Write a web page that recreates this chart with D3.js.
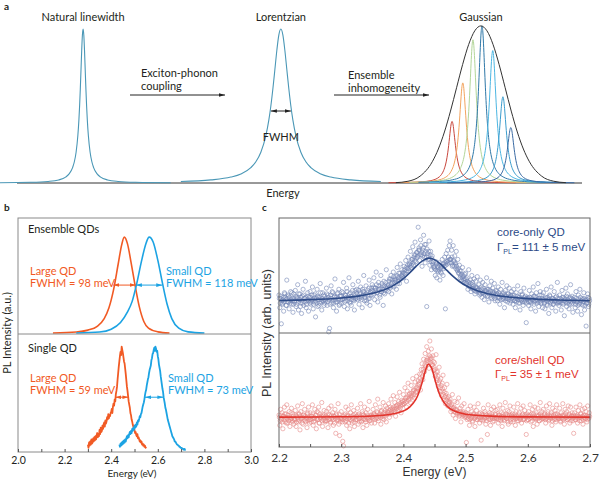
<!DOCTYPE html>
<html>
<head>
<meta charset="utf-8">
<script src="https://cdn.jsdelivr.net/npm/d3@7"></script>
<style>
  body { margin: 0; background: #fff; }
  svg text { font-family: Lato, "Open Sans", sans-serif; fill: #231f20; }
  svg text.arial { font-family: "Liberation Sans", Arial, sans-serif; }
</style>
</head>
<body>
<script>
// ---------- panel a: line shapes (offset in half-widths / sigmas -> relative height)
const lorentzT = [0, 0.2, 0.4, 0.6, 0.8, 1, 1.2, 1.5, 2, 2.5, 3, 4, 5, 7, 10, 15, 25];
const lorentzH = [1, 0.9615, 0.862, 0.735, 0.61, 0.5, 0.41, 0.308, 0.2, 0.138, 0.1, 0.0588, 0.0385, 0.02, 0.0099, 0.0044, 0.0016];
const gaussT = [0, 0.25, 0.5, 0.75, 1, 1.25, 1.5, 1.75, 2, 2.5, 3, 3.5];
const gaussH = [1, 0.969, 0.8825, 0.7548, 0.6065, 0.4578, 0.3247, 0.2163, 0.1353, 0.0439, 0.0111, 0.0022];

// the three schematic peaks (arbitrary energy units 0..100)
const aTitles = ["Natural linewidth", "Lorentzian", "Gaussian"];
const aCenters = [11.7, 46.7, 82.1];
const aWidths = [0.62, 1.77, 4.3];
const aHeights = [1, 1, 1.02];
const aMaxT = [25, 10, 3.5];

// individual emitters under the gaussian
const compCenters = [77.0, 78.9, 80.7, 82.3, 84.2, 86.0, 87.4];
const compHeights = [0.40, 0.65, 0.93, 1.02, 0.86, 0.56, 0.36];
const compWidth = 0.75;
const compColors = ["#c8463c", "#f3a45e", "#b3d699", "#2f78a8", "#4cb6e2", "#3a9ccd", "#3a6aa3"];

// ---------- panel b
const ensLargeE = [2.15, 2.25, 2.30, 2.34, 2.37, 2.39, 2.41, 2.43, 2.445, 2.456, 2.47, 2.485, 2.50, 2.52, 2.54, 2.56, 2.60, 2.65];
const ensLargeI = [0, 0.01, 0.03, 0.07, 0.15, 0.26, 0.45, 0.72, 0.92, 1.0, 0.93, 0.74, 0.53, 0.28, 0.12, 0.05, 0.012, 0];
const ensSmallE = [2.25, 2.35, 2.40, 2.44, 2.47, 2.49, 2.51, 2.53, 2.55, 2.563, 2.58, 2.60, 2.62, 2.64, 2.66, 2.69, 2.73, 2.80];
const ensSmallI = [0, 0.01, 0.04, 0.11, 0.22, 0.33, 0.52, 0.75, 0.94, 1.0, 0.95, 0.76, 0.52, 0.30, 0.15, 0.05, 0.012, 0];

const singleStep = 0.0025;
const singleLargeStart = 2.30;
const singleLarge = [
  7,4,9,6, 10,7,12,8, 9,13,10,14, 11,15,12,16, 18,14,17,15, 21,17,23,19, 20,25,22,26,
  28,24,30,27, 29,33,31,36, 32,35,34,37, 38,41,37,43, 46,44,50,48, 55,58,62,69,
  75,81,86,91, 95,92,100,97, 94,90,86,84, 79,74,68,62, 58,53,48,45, 42,37,35,31,
  29,26,24,23, 21,18,19,16, 15,17,13,14, 12,10,11,9, 10,7,8,6, 7,5,6,4, 5];
const singleSmallStart = 2.435;
const singleSmall = [
  7,5, 8,6,9,7, 10,8,11,9, 12,10,13,15, 13,16,14,17, 19,17,20,18, 22,20,23,21,
  25,23,26,24, 28,26,30,29, 31,34,33,36, 37,40,43,45, 47,50,54,57, 59,63,66,69,
  71,75,78,80, 82,87,89,93, 94,97,99,96, 100,98,95,96, 91,88,83,80, 77,72,68,64,
  60,57,52,49, 46,42,40,37, 34,31,29,27, 25,23,21,19, 17,15,14,13, 12,10,10,9,
  8,7,7,6, 6,5,5,4, 4,4,3,3, 3,2,3,2, 2];

// ---------- panel c (two interleaved scans per QD)
const cStart = 2.2, cStep = 0.00125;
const coreOnlyPL = [
  33,22,30,8,26,29,19,35,31,24,46,27,32,21,28,36,25,30,18,34,
  27,37,23,31,42,20,29,34,26,17,32,38,24,30,45,22,28,35,19,31,
  36,25,29,40,21,33,27,14,30,38,23,31,26,43,29,20,35,28,24,32,
  28,39,24,33,1,4,30,41,26,35,22,31,47,27,19,34,29,38,25,32,
  26,36,30,44,23,33,28,39,21,31,48,27,35,24,32,42,29,20,37,30,
  38,29,45,25,34,40,31,22,36,50,28,33,41,26,37,30,46,24,35,39,
  42,33,48,29,39,53,35,27,44,38,31,50,36,41,24,45,34,40,55,37,
  41,36,47,39,50,34,44,53,40,46,49,38,57,45,52,43,60,48,55,51,
  48,58,52,63,45,56,66,54,60,71,57,64,75,59,68,79,62,70,66,92,
  74,63,81,68,58,72,85,66,61,77,23,69,64,80,59,71,55,67,62,57,
  56,50,62,48,58,53,61,46,57,52,64,50,60,66,21,69,62,72,66,76,
  80,64,72,58,76,62,67,60,71,55,64,52,59,48,54,46,57,50,44,51,
  52,43,48,38,55,41,46,36,50,44,39,47,34,45,40,49,37,42,33,46,
  40,31,44,35,29,42,37,48,32,38,27,41,36,45,30,39,34,43,28,37,
  36,28,40,31,25,38,33,44,29,35,22,37,30,41,27,34,39,26,32,36,
  33,25,38,28,22,35,30,41,26,31,20,36,29,34,24,39,27,32,9,30,
  31,24,37,27,21,34,29,40,25,32,19,35,28,43,23,30,36,26,33,22,
  35,26,21,31,38,24,29,17,33,27,40,22,30,25,36,28,19,32,44,26,
  24,33,28,20,37,26,31,15,29,39,23,34,27,21,30,42,25,32,18,28,
  31,22,36,27,19,33,25,38,28,16,30,24,35,20,29,6,26,34,23,30];
const coreOnlyPL2 = [
  30,26,32,28,25,31,27,34,29,24,30,33,27,31,26,29,35,28,25,30,
  28,32,25,30,27,34,29,23,31,28,26,33,30,27,31,25,29,32,28,26,
  31,27,33,29,25,30,34,28,26,32,29,24,31,35,27,30,28,33,26,29,
  30,34,27,31,29,25,33,30,36,28,26,32,29,31,27,35,30,24,32,29,
  32,29,35,30,27,33,31,36,28,30,34,26,32,29,37,31,28,33,30,35,
  34,31,37,30,35,32,29,38,33,36,31,34,28,35,32,39,30,36,33,37,
  36,40,34,39,37,42,35,38,41,33,39,36,43,38,35,41,37,44,39,40,
  42,45,40,47,43,46,41,49,44,47,45,50,43,48,46,52,47,50,49,53,
  52,55,51,57,54,59,56,60,58,62,59,64,61,66,63,68,65,70,67,72,
  72,68,76,70,67,74,69,77,71,66,73,67,71,64,68,62,65,60,62,58,
  58,55,60,54,57,55,59,53,56,58,60,56,58,61,59,62,60,63,61,64,
  64,61,66,59,63,58,61,56,58,54,56,52,54,50,51,48,49,46,47,44,
  47,43,45,41,44,40,43,39,42,38,41,37,40,36,39,37,38,35,37,34,
  38,35,39,34,37,33,36,38,32,35,34,37,31,34,36,32,35,30,33,34,
  34,31,35,30,33,29,32,34,30,31,33,28,32,30,34,29,31,33,28,30,
  31,29,33,28,30,27,32,29,31,26,30,28,33,27,29,31,28,30,26,29,
  30,27,31,28,26,30,29,32,27,28,31,26,29,30,27,33,28,26,30,29,
  29,26,30,28,25,31,27,29,32,26,28,30,25,29,27,31,28,26,30,27,
  27,30,26,29,31,25,28,30,27,32,26,29,28,25,31,27,30,26,29,28,
  28,25,30,27,24,29,26,31,28,25,29,27,30,24,28,26,29,31,25,28];
const coreShellPL = [
  28,19,33,24,30,16,27,35,22,29,37,21,26,31,18,25,34,23,29,20,
  24,32,18,27,36,22,29,15,31,25,38,20,28,33,23,26,17,30,35,21,
  30,22,27,37,19,25,33,28,16,31,24,35,21,29,26,39,18,27,32,23,
  23,31,26,17,34,28,21,36,25,30,19,27,33,12,29,24,38,20,10,26,
  31,24,5,1,28,22,35,19,27,33,25,16,30,37,21,26,32,18,29,24,
  27,34,20,29,25,38,22,31,17,28,35,24,30,19,33,26,40,23,28,21,
  26,33,29,21,37,25,31,42,23,28,35,20,32,27,39,24,30,36,22,34,
  30,38,26,35,42,29,33,45,31,39,27,36,44,32,40,48,34,30,41,37,
  46,38,52,43,35,49,56,41,47,39,54,45,60,50,43,57,48,62,52,58,
  55,64,50,68,73,59,77,66,82,71,88,76,84,69,93,79,86,72,80,67,
  74,62,81,58,66,53,70,49,60,45,56,63,41,52,38,47,55,36,44,40,
  42,31,37,46,28,35,40,25,33,39,30,43,27,34,22,36,29,31,38,26,
  30,4,24,33,28,19,36,25,31,22,29,35,18,27,32,24,38,26,21,30,
  6,29,23,34,26,31,20,28,11,37,24,30,19,33,27,22,35,25,29,32,
  26,33,21,28,37,24,30,18,34,27,23,39,29,25,32,20,31,36,22,28,
  29,22,35,27,19,31,25,38,23,30,26,34,21,28,36,24,32,27,11,29,
  24,31,27,37,22,29,33,18,26,35,25,30,20,34,28,23,39,27,31,25,
  33,25,29,21,36,27,31,23,38,26,30,19,34,28,24,32,22,37,29,26,
  27,34,22,30,25,38,28,20,33,26,31,24,36,29,21,35,27,30,23,12,
  30,24,35,27,21,32,26,37,29,23,33,20,28,34,25,31,22,36,27,30];
const coreShellPL2 = [
  26,23,28,25,22,27,24,29,26,21,25,28,23,26,24,30,25,22,27,24,
  25,28,22,26,24,29,23,27,25,21,26,28,24,27,22,25,29,23,26,24,
  24,27,25,29,22,26,23,28,25,24,30,21,26,25,27,23,28,24,26,22,
  27,23,26,29,24,25,22,28,26,24,27,21,25,28,23,26,24,29,22,25,
  25,22,27,24,26,29,23,25,28,21,26,24,27,23,25,28,22,26,24,27,
  24,28,25,22,27,26,23,29,25,24,27,22,26,28,24,25,23,27,26,28,
  27,25,29,24,28,26,30,25,27,29,26,31,28,25,30,27,32,29,28,31,
  30,32,29,33,31,34,32,35,33,31,36,34,37,35,33,38,36,39,37,40,
  38,41,39,43,40,44,42,46,43,45,47,44,49,46,50,48,52,49,54,51,
  56,60,58,64,62,68,66,72,70,76,74,78,75,80,77,74,78,72,75,70,
  68,64,66,60,62,56,58,52,54,49,51,46,48,44,45,41,43,40,38,39,
  36,34,35,32,34,31,33,30,32,29,31,30,28,31,29,27,30,28,29,27,
  28,26,29,25,27,24,28,26,23,27,29,25,26,28,24,27,25,29,26,24,
  26,28,24,27,25,29,26,23,27,25,28,24,26,29,25,27,23,26,28,25,
  25,27,24,28,26,23,27,25,29,24,26,28,25,27,22,26,28,24,27,25,
  27,24,26,29,25,27,23,26,28,25,24,27,26,29,24,25,28,26,23,27,
  24,27,25,28,26,23,27,29,25,26,24,28,25,27,23,26,29,24,27,25,
  26,28,24,27,25,29,26,24,27,25,28,23,26,27,25,29,24,26,28,25,
  25,27,23,26,28,24,27,25,29,26,24,27,25,28,26,23,27,25,28,26,
  27,24,26,28,25,27,23,26,29,25,27,24,26,28,25,27,24,26,25,27];
const coreOnlyFitE = [2.20,2.25,2.30,2.33,2.36,2.38,2.39,2.40,2.41,2.42,2.43,2.44,2.45,2.46,2.47,2.48,2.49,2.50,2.52,2.55,2.60,2.65,2.70];
const coreOnlyFitI = [28.3,29.0,30.5,32.3,35.8,40.1,43.3,47.3,52.2,57.7,62.5,64.9,63.8,59.8,54.4,49.2,44.8,41.3,36.5,32.6,29.9,28.7,28.1];
const coreShellFitE = [2.20,2.30,2.35,2.38,2.40,2.41,2.42,2.425,2.43,2.435,2.44,2.445,2.45,2.455,2.46,2.47,2.48,2.50,2.55,2.60,2.70];
const coreShellFitI = [26.2,26.5,27.2,28.7,31.5,34.9,41.8,47.9,56.4,66.3,72.6,69.7,60.4,51.0,44.0,35.9,32.0,28.8,26.9,26.4,26.2];

const bTicks = d3.range(11).map(i => +(2 + i * 0.1).toFixed(1));
const cTicks = d3.range(11).map(i => +(2.2 + i * 0.05).toFixed(2));

const ORANGE = "#f15a24", BLUE = "#1ca3e3", NAVY = "#2c4a87", RED = "#e2332b";

const svg = d3.select("body").append("svg").attr("width", 600).attr("height", 484);
const defs = svg.append("defs");

function marker(id, color) {
  defs.append("marker").attr("id", id)
    .attr("viewBox", "0 0 10 6").attr("refX", 10).attr("refY", 3)
    .attr("markerUnits", "userSpaceOnUse")
    .attr("markerWidth", 6).attr("markerHeight", 3.6)
    .attr("orient", "auto-start-reverse")
    .append("path").attr("d", "M0,0L10,3L0,6z").attr("fill", color);
}
marker("ar-k", "#222");
marker("ar-o", ORANGE);
marker("ar-b", BLUE);

function label(x, y, s, o = {}) {
  return svg.append("text").attr("x", x).attr("y", y)
    .attr("font-size", o.size || 11)
    .attr("text-anchor", o.anchor || "start")
    .attr("font-weight", o.bold ? "bold" : null)
    .attr("class", o.cls || null)
    .style("fill", o.color || null)
    .text(s);
}

function hArrow(x1, x2, y, id, color, both) {
  svg.append("line").attr("x1", x1).attr("x2", x2).attr("y1", y).attr("y2", y)
    .attr("stroke", color).attr("stroke-width", 1)
    .attr("marker-end", `url(#${id})`)
    .attr("marker-start", both ? `url(#${id})` : null);
}

// ================= panel a =================
const xa = d3.scaleLinear().domain([0, 100]).range([17, 582]);
const ya = d3.scaleLinear().domain([0, 1]).range([183, 29]);
const lineA = d3.line().x(d => xa(d[0])).y(d => ya(d[1])).curve(d3.curveMonotoneX);

function profile(T, Hh, c, w, h, maxT) {
  const pts = [];
  T.forEach((t, i) => { if (t <= maxT) pts.push([c - t * w, Hh[i] * h]); });
  pts.reverse();
  T.forEach((t, i) => { if (t > 0 && t <= maxT) pts.push([c + t * w, Hh[i] * h]); });
  return pts;
}

label(4, 10, "a", { size: 10, bold: true });

svg.append("line").attr("x1", xa(0)).attr("x2", xa(100)).attr("y1", ya(0)).attr("y2", ya(0))
  .attr("stroke", "#333").attr("stroke-width", 1);

compCenters.forEach((c, i) => {
  svg.append("path").attr("d", lineA(profile(lorentzT, lorentzH, c, compWidth, compHeights[i], 15)))
    .attr("fill", "none").attr("stroke", compColors[i]).attr("stroke-width", 1);
});
[0, 1].forEach(i => {
  svg.append("path").attr("d", lineA(profile(lorentzT, lorentzH, aCenters[i], aWidths[i], aHeights[i], aMaxT[i])))
    .attr("fill", "none").attr("stroke", "#4a97b6").attr("stroke-width", 1.1);
});
svg.append("path").attr("d", lineA(profile(gaussT, gaussH, aCenters[2], aWidths[2], aHeights[2], aMaxT[2])))
  .attr("fill", "none").attr("stroke", "#333").attr("stroke-width", 1);

aTitles.forEach((t, i) => label(xa(aCenters[i]), 21, t, { anchor: "middle" }));

hArrow(130, 225, 95, "ar-k", "#222");
label(141, 77, "Exciton-phonon");
label(141, 90, "coupling");
hArrow(334, 429, 95, "ar-k", "#222");
label(348, 79, "Ensemble");
label(348, 92, "inhomogeneity");

hArrow(xa(aCenters[1] - aWidths[1]), xa(aCenters[1] + aWidths[1]), 111, "ar-k", "#222", true);
label(xa(aCenters[1]), 140.5, "FWHM", { anchor: "middle" });
label(283, 197, "Energy", { anchor: "middle" });

// ================= panel b =================
const xb = d3.scaleLinear().domain([2, 3]).range([18, 251]);
const ybTop = d3.scaleLinear().domain([0, 1.2]).range([333, 218]);
const ybBot = d3.scaleLinear().domain([0, 1.12]).range([452, 334]);

label(4, 211, "b", { size: 10, bold: true });

const lineBTop = d3.line().x(d => xb(d[0])).y(d => ybTop(d[1])).curve(d3.curveMonotoneX);
svg.append("path").attr("d", lineBTop(d3.zip(ensLargeE, ensLargeI)))
  .attr("fill", "none").attr("stroke", ORANGE).attr("stroke-width", 1.6);
svg.append("path").attr("d", lineBTop(d3.zip(ensSmallE, ensSmallI)))
  .attr("fill", "none").attr("stroke", BLUE).attr("stroke-width", 1.6);

const lineBBot = d3.line().x(d => xb(d[0])).y(d => ybBot(d[1] / 100));
svg.append("path").attr("d", lineBBot(singleLarge.map((v, i) => [singleLargeStart + i * singleStep, v])))
  .attr("fill", "none").attr("stroke", ORANGE).attr("stroke-width", 1.8).attr("stroke-linejoin", "round");
svg.append("path").attr("d", lineBBot(singleSmall.map((v, i) => [singleSmallStart + i * singleStep, v])))
  .attr("fill", "none").attr("stroke", BLUE).attr("stroke-width", 1.8).attr("stroke-linejoin", "round");

svg.append("rect").attr("x", xb(2)).attr("y", ybTop.range()[1])
  .attr("width", xb(3) - xb(2)).attr("height", ybBot(0) - ybTop.range()[1])
  .attr("fill", "none").attr("stroke", "#8a8a8a").attr("stroke-width", 1);
svg.append("line").attr("x1", xb(2)).attr("x2", xb(3)).attr("y1", 334).attr("y2", 334)
  .attr("stroke", "#8a8a8a").attr("stroke-width", 1);

const axB = svg.append("g").attr("transform", `translate(0,${ybBot(0)})`)
  .call(d3.axisBottom(xb).tickValues(bTicks).tickSizeInner(-3).tickSizeOuter(0).tickPadding(5)
    .tickFormat(d => Math.round(d * 10) % 2 === 0 ? d3.format(".1f")(d) : ""));
axB.select(".domain").remove();
axB.selectAll(".tick line").attr("stroke", "#555");
axB.selectAll("text").attr("font-size", 10.5).attr("font-family", "Lato, sans-serif").style("fill", "#231f20");

label(132, 477, "Energy (eV)", { anchor: "middle", size: 10 });
svg.append("text").attr("transform", "translate(11,333) rotate(-90)")
  .attr("text-anchor", "middle").attr("font-size", 11).text("PL Intensity (a.u.)");

label(28, 233, "Ensemble QDs");
label(30, 275, "Large QD", { color: ORANGE });
label(30, 287, "FWHM = 98 meV", { color: ORANGE });
label(166, 275, "Small QD", { color: BLUE });
label(166, 287, "FWHM = 118 meV", { color: BLUE });
hArrow(xb(2.409), xb(2.506), ybTop(0.5), "ar-o", ORANGE, true);
hArrow(xb(2.506), xb(2.619), ybTop(0.5), "ar-b", BLUE, true);

label(28, 352, "Single QD");
label(30, 382, "Large QD", { color: ORANGE });
label(30, 394, "FWHM = 59 meV", { color: ORANGE });
label(168, 382, "Small QD", { color: BLUE });
label(168, 394, "FWHM = 73 meV", { color: BLUE });
hArrow(xb(2.418), xb(2.474), ybBot(0.52), "ar-o", ORANGE, true);
hArrow(xb(2.545), xb(2.624), ybBot(0.52), "ar-b", BLUE, true);

// ================= panel c =================
const xc = d3.scaleLinear().domain([2.2, 2.7]).range([279, 590]);
const ycTop = d3.scaleLinear().domain([0, 100]).range([333, 218]);
const ycBot = d3.scaleLinear().domain([0, 100]).range([447, 333]);

label(262, 211, "c", { size: 10, bold: true });

function scatter(vals, y, color, shift) {
  svg.append("g").selectAll("circle").data(vals).join("circle")
    .attr("cx", (d, i) => xc(cStart + (i + shift) * cStep)).attr("cy", d => y(d))
    .attr("r", 2.1).attr("fill", "none").attr("stroke", color).attr("stroke-width", 0.6);
}
scatter(coreOnlyPL, ycTop, "#7486b6", 0);
scatter(coreOnlyPL2, ycTop, "#7486b6", 0.5);
scatter(coreShellPL, ycBot, "#e58a88", 0);
scatter(coreShellPL2, ycBot, "#e58a88", 0.5);

const lineCTop = d3.line().x(d => xc(d[0])).y(d => ycTop(d[1])).curve(d3.curveCatmullRom);
const lineCBot = d3.line().x(d => xc(d[0])).y(d => ycBot(d[1])).curve(d3.curveCatmullRom);
svg.append("path").attr("d", lineCTop(d3.zip(coreOnlyFitE, coreOnlyFitI)))
  .attr("fill", "none").attr("stroke", NAVY).attr("stroke-width", 1.6);
svg.append("path").attr("d", lineCBot(d3.zip(coreShellFitE, coreShellFitI)))
  .attr("fill", "none").attr("stroke", RED).attr("stroke-width", 1.6);

svg.append("rect").attr("x", xc(2.2)).attr("y", 218).attr("width", xc(2.7) - xc(2.2)).attr("height", 447 - 218)
  .attr("fill", "none").attr("stroke", "#666").attr("stroke-width", 1);
svg.append("line").attr("x1", xc(2.2)).attr("x2", xc(2.7)).attr("y1", 333).attr("y2", 333)
  .attr("stroke", "#666").attr("stroke-width", 1);

const axC = svg.append("g").attr("transform", `translate(0,447)`)
  .call(d3.axisBottom(xc).tickValues(cTicks).tickSizeInner(-3).tickSizeOuter(0).tickPadding(6)
    .tickFormat(d => Math.round(d * 100) % 10 === 0 ? d3.format(".1f")(d) : ""));
axC.select(".domain").remove();
axC.selectAll(".tick line").attr("stroke", "#555");
axC.selectAll("text").attr("font-size", 12).attr("font-family", "'Liberation Sans', Arial, sans-serif").style("fill", "#333");

label(xc(2.45), 476, "Energy (eV)", { anchor: "middle", size: 12, cls: "arial", color: "#333" });
svg.append("text").attr("class", "arial").attr("transform", "translate(271,333) rotate(-90)")
  .attr("text-anchor", "middle").attr("font-size", 12.5).style("fill", "#333")
  .text("PL Intensity (arb. units)");

function gammaLabel(x, y, rest, color) {
  const t = svg.append("text").attr("class", "arial").attr("x", x).attr("y", y)
    .attr("font-size", 11.5).style("fill", color);
  t.append("tspan").text("Γ");
  t.append("tspan").attr("font-size", 7).attr("dy", 3).text("PL");
  t.append("tspan").attr("dy", -3).text(rest);
}
label(497, 236, "core-only QD", { size: 11.5, cls: "arial", color: NAVY });
gammaLabel(497, 251, "= 111 ± 5 meV", NAVY);
label(495, 364, "core/shell QD", { size: 11.5, cls: "arial", color: RED });
gammaLabel(495, 378, "= 35 ± 1 meV", RED);
</script>
</body>
</html>
